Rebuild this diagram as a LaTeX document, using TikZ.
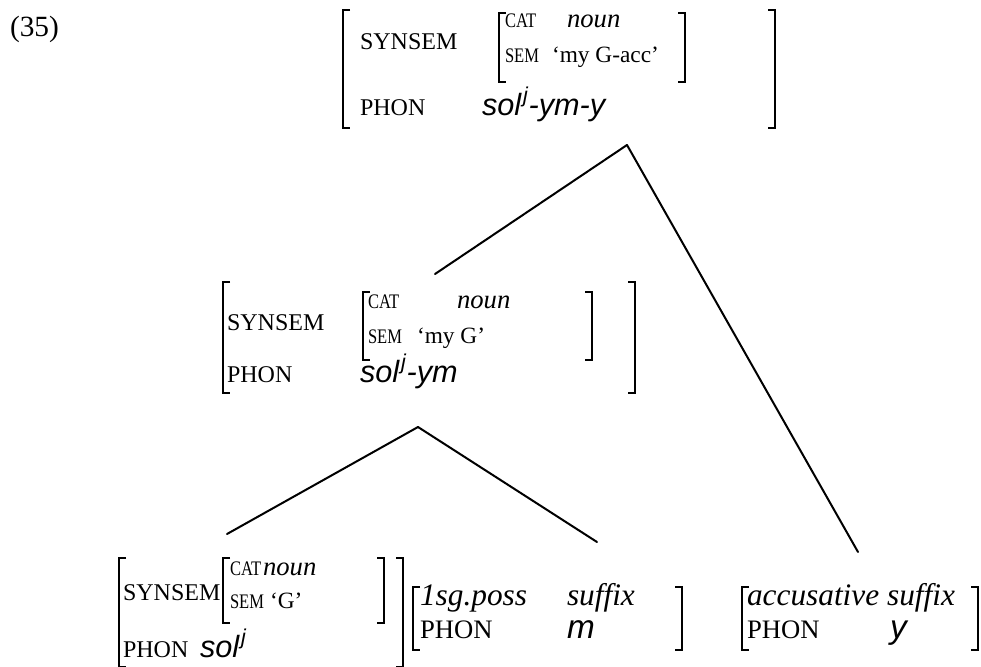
\documentclass[tikz,border=0pt]{standalone}
\usepackage{fontspec}
\usepackage{graphicx}
\setmainfont{Liberation Serif}
\newfontfamily\phonfont{Liberation Sans}
\newcommand\avmL[3]{\draw[brk] (#1+7,#2) -- (#1,#2) -- (#1,#3) -- (#1+7,#3);}
\newcommand\avmR[3]{\draw[brk] (#1-7,#2) -- (#1,#2) -- (#1,#3) -- (#1-7,#3);}
\newcommand\narrow[1]{\scalebox{0.8}[1]{#1}}
\newcommand\supj{\kern1.5pt\textsuperscript{j}}
\begin{document}
\begin{tikzpicture}[x=0.75pt,y=-0.75pt,
  t/.style={anchor=base west, inner sep=0pt, outer sep=0pt},
  featL/.style={t, font=\fontsize{18}{20}\selectfont},
  featB/.style={t, font=\fontsize{20}{22}\selectfont},
  featS/.style={t, font=\fontsize{15.5}{17}\selectfont},
  val/.style={t, font=\fontsize{17.5}{20}\selectfont},
  ival/.style={t, font=\fontsize{20}{22}\selectfont\itshape},
  ibig/.style={t, font=\fontsize{23.5}{26}\selectfont\itshape},
  pv/.style={t, font=\phonfont\itshape\fontsize{23}{26}\selectfont},
  pvb/.style={t, font=\phonfont\itshape\fontsize{25}{28}\selectfont},
  brk/.style={line width=1.4pt},
  edge/.style={line width=1.5pt, line cap=round}]
\useasboundingbox (0,0) rectangle (981,667);

% example number
\node[t, font=\fontsize{22}{24}\selectfont] (num) at (10,37) {(35)};

% ---- top AVM ----
\avmL{343}{10}{128}
\avmR{775}{10}{128}
\avmL{499}{13}{82}
\avmR{685}{13}{82}
\node[featL] (tsyn) at (360,50) {SYNSEM};
\node[featS] (tcat) at (505,28) {\narrow{CAT}};
\node[ival] (tnoun) at (567,28) {noun};
\node[featS] (tsem) at (505,63) {\narrow{SEM}};
\node[val] (tsemv) at (552,63) {‘my G-acc’};
\node[featL] (tphon) at (360,115) {PHON};
\node[pv] (tphonv) at (482,115) {sol\supj-ym-y};

% ---- middle AVM ----
\avmL{223}{282}{393}
\avmR{635}{282}{393}
\avmL{363}{292}{360}
\avmR{592}{292}{360}
\node[featL] (msyn) at (227,330) {SYNSEM};
\node[featS] (mcat) at (368,308) {\narrow{CAT}};
\node[ival] (mnoun) at (457,308) {noun};
\node[featS] (msem) at (368,343) {\narrow{SEM}};
\node[val] (msemv) at (417,343) {‘my G’};
\node[featL] (mphon) at (227,382) {PHON};
\node[pv] (mphonv) at (360,382) {sol\supj-ym};

% ---- bottom left AVM ----
\avmL{119}{558}{667}
\avmR{403}{558}{667}
\avmL{223}{558}{623}
\avmR{384}{558}{623}
\node[featL] (lsyn) at (123,600) {SYNSEM};
\node[featS] (lcat) at (230,575) {\narrow{CAT}};
\node[ival] (lnoun) at (263,575) {noun};
\node[featS] (lsem) at (230,608) {\narrow{SEM}};
\node[val] (lsemv) at (270,608) {‘G’};
\node[featL] (lphon) at (123,657) {PHON};
\node[pv] (lphonv) at (200,657) {sol\supj};

% ---- 1sg.poss AVM ----
\avmL{413}{587}{650}
\avmR{682}{587}{650}
\node[ibig] (ptype) at (420,605) {1sg.poss};
\node[ibig] (psuf) at (567,605) {suffix};
\node[featB] (pphon) at (420,638) {PHON};
\node[pvb] (pphonv) at (567,638) {m};

% ---- accusative AVM ----
\avmL{742}{587}{650}
\avmR{978}{587}{650}
\node[ibig] (atype) at (747,605) {accusative suffix};
\node[featB] (aphon) at (747,638) {PHON};
\node[pvb] (aphonv) at (890,638) {y};

% ---- tree connectors ----
\coordinate (topapex) at (627,145);
\coordinate (midtop) at (435,274);
\coordinate (acctop) at (858,552);
\coordinate (midapex) at (418,427);
\coordinate (lefttop) at (227,534);
\coordinate (posstop) at (597,542);
\draw[edge] (topapex) -- (midtop);
\draw[edge] (topapex) -- (acctop);
\draw[edge] (midapex) -- (lefttop);
\draw[edge] (midapex) -- (posstop);
\end{tikzpicture}
\end{document}
